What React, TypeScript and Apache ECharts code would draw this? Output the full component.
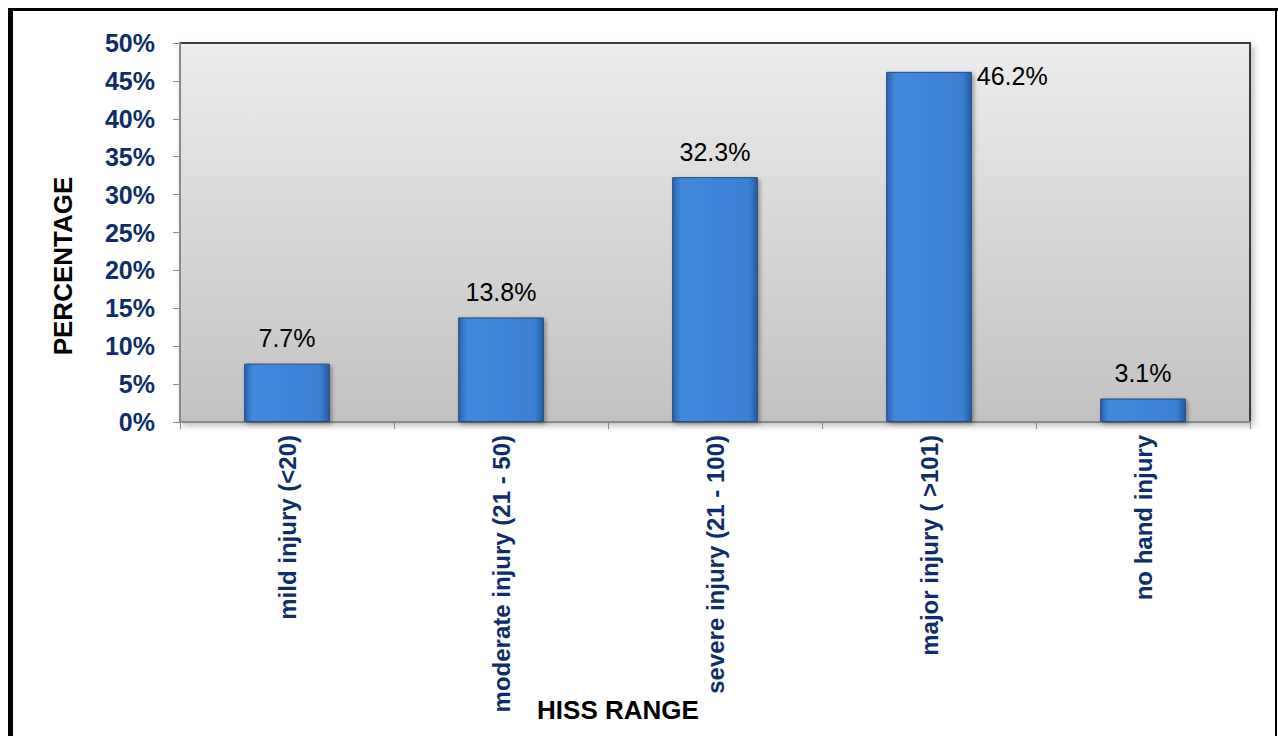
import React, { useEffect, useRef } from "react";
import * as echarts from "echarts";

const categories = [
  "mild injury (<20)",
  "moderate injury (21 - 50)",
  "severe injury (21 - 100)",
  "major injury ( >101)",
  "no hand injury",
];
const percentages = [7.7, 13.8, 32.3, 46.2, 3.1];
const yAxisName = "PERCENTAGE";
const xAxisName = "HISS RANGE";

const NAVY = "#0e2d6b";
const FONT = "'Liberation Sans', Arial, sans-serif";

export default function App() {
  const ref = useRef<HTMLDivElement>(null);
  useEffect(() => {
    if (!ref.current) return;
    const chart = echarts.init(ref.current, undefined, { renderer: "svg" });
    const barColor = new echarts.graphic.LinearGradient(0, 0, 1, 0, [
      { offset: 0, color: "#2b63ad" },
      { offset: 0.1, color: "#4189dc" },
      { offset: 0.9, color: "#3b7fd3" },
      { offset: 1, color: "#275ca3" },
    ]);
    chart.setOption({
      animation: false,
      textStyle: { fontFamily: FONT },
      grid: {
        left: 180,
        top: 43,
        right: 28,
        bottom: 314,
        show: true,
        borderColor: "#3a3a3a",
        borderWidth: 2,
        backgroundColor: new echarts.graphic.LinearGradient(0, 0, 0, 1, [
          { offset: 0, color: "#ececec" },
          { offset: 1, color: "#c2c2c2" },
        ]),
        shadowColor: "rgba(0,0,0,0.25)",
        shadowBlur: 6,
        shadowOffsetX: 3,
        shadowOffsetY: 3,
      },
      xAxis: {
        type: "category",
        data: categories,
        axisLine: { show: true, lineStyle: { color: "#8a8a8a", width: 2 } },
        axisTick: { show: true, length: 7, lineStyle: { color: "#8a8a8a", width: 1 } },
        axisLabel: {
          rotate: 90,
          margin: 13,
          fontSize: 24,
          fontWeight: "bold",
          color: NAVY,
          fontFamily: FONT,
          interval: 0,
        },
      },
      yAxis: {
        type: "value",
        min: 0,
        max: 50,
        interval: 5,
        splitLine: { show: false },
        axisLine: { show: true, lineStyle: { color: "#8a8a8a", width: 2 } },
        axisTick: { show: true, length: 7, lineStyle: { color: "#8a8a8a", width: 1 } },
        axisLabel: {
          formatter: "{value}%",
          margin: 25,
          fontSize: 25,
          fontWeight: "bold",
          color: NAVY,
          fontFamily: FONT,
        },
      },
      series: [
        {
          type: "bar",
          barWidth: "40%",
          data: percentages.map((v, i) =>
            i === 3
              ? {
                  value: v,
                  label: {
                    position: ["100%", 0],
                    align: "left",
                    verticalAlign: "middle",
                    offset: [5, 4],
                  },
                }
              : v
          ),
          itemStyle: {
            color: barColor,
            borderColor: "#1f4a80",
            borderWidth: 1,
            shadowColor: "rgba(0,0,0,0.35)",
            shadowBlur: 4,
            shadowOffsetX: 2,
            shadowOffsetY: 2,
          },
          label: {
            show: true,
            position: "top",
            distance: 13,
            formatter: (p: any) => p.value.toFixed(1) + "%",
            fontSize: 25,
            color: "#000",
            fontFamily: FONT,
          },
        },
      ],
      graphic: [
        { type: "rect", shape: { x: 8, y: 8, width: 1270, height: 3 }, style: { fill: "#000" } },
        { type: "rect", shape: { x: 8, y: 8, width: 5, height: 728 }, style: { fill: "#000" } },
        { type: "rect", shape: { x: 1275, y: 8, width: 2, height: 728 }, style: { fill: "#000" } },
        {
          type: "text",
          x: 63,
          y: 266,
          rotation: Math.PI / 2,
          style: {
            text: yAxisName,
            font: `bold 26px ${FONT}`,
            fill: "#000",
            align: "center",
            verticalAlign: "middle",
          },
        },
        {
          type: "text",
          x: 618,
          y: 710,
          style: {
            text: xAxisName,
            font: `bold 26px ${FONT}`,
            fill: "#000",
            align: "center",
            verticalAlign: "middle",
          },
        },
      ],
    });
    return () => chart.dispose();
  }, []);
  return (
    <div
      ref={ref}
      style={{ position: "fixed", left: 0, top: 0, width: 1278, height: 736, background: "#fff" }}
    />
  );
}
